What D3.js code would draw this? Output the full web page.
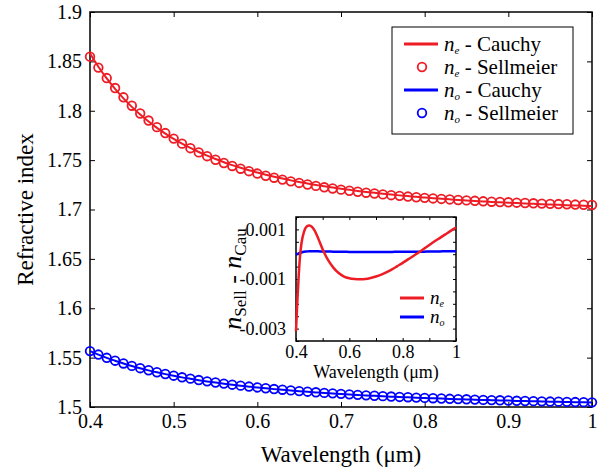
<!DOCTYPE html>
<html>
<head>
<meta charset="utf-8">
<script src="https://cdn.jsdelivr.net/npm/d3@7"></script>
<style>
  body { margin: 0; background: #fff; }
  #drawing_region text { font-family: "Liberation Serif", "Times New Roman", serif !important; }
</style>
</head>
<body>
<svg id="drawing_region" width="603" height="473"></svg>
<script>
// wavelengths (um) of the Sellmeier circles / Cauchy line
const wavelength = [0.40, 0.41, 0.42, 0.43, 0.44, 0.45, 0.46, 0.47, 0.48, 0.49,
  0.50, 0.51, 0.52, 0.53, 0.54, 0.55, 0.56, 0.57, 0.58, 0.59,
  0.60, 0.61, 0.62, 0.63, 0.64, 0.65, 0.66, 0.67, 0.68, 0.69,
  0.70, 0.71, 0.72, 0.73, 0.74, 0.75, 0.76, 0.77, 0.78, 0.79,
  0.80, 0.81, 0.82, 0.83, 0.84, 0.85, 0.86, 0.87, 0.88, 0.89,
  0.90, 0.91, 0.92, 0.93, 0.94, 0.95, 0.96, 0.97, 0.98, 0.99, 1.00];
const neCauchy = [1.8579, 1.8446, 1.8327, 1.8221, 1.8125, 1.8039, 1.7961, 1.7891, 1.7827, 1.7769,
  1.7716, 1.7667, 1.7623, 1.7582, 1.7545, 1.7511, 1.7479, 1.7449, 1.7422, 1.7397,
  1.7374, 1.7352, 1.7332, 1.7313, 1.7295, 1.7279, 1.7263, 1.7249, 1.7235, 1.7222,
  1.7210, 1.7199, 1.7188, 1.7178, 1.7169, 1.7160, 1.7151, 1.7143, 1.7136, 1.7128,
  1.7122, 1.7115, 1.7109, 1.7103, 1.7097, 1.7092, 1.7087, 1.7082, 1.7077, 1.7073,
  1.7069, 1.7065, 1.7061, 1.7057, 1.7053, 1.7050, 1.7047, 1.7044, 1.7041, 1.7038, 1.7035];
const neSellmeier = [1.8548, 1.8437, 1.8331, 1.8230, 1.8136, 1.8051, 1.7972, 1.7901, 1.7834, 1.7774,
  1.7718, 1.7667, 1.7621, 1.7578, 1.7540, 1.7504, 1.7471, 1.7441, 1.7413, 1.7388,
  1.7364, 1.7342, 1.7322, 1.7303, 1.7285, 1.7269, 1.7253, 1.7239, 1.7225, 1.7213,
  1.7201, 1.7190, 1.7180, 1.7170, 1.7162, 1.7153, 1.7145, 1.7138, 1.7131, 1.7124,
  1.7118, 1.7112, 1.7107, 1.7102, 1.7096, 1.7092, 1.7088, 1.7083, 1.7079, 1.7076,
  1.7073, 1.7069, 1.7066, 1.7063, 1.7060, 1.7057, 1.7055, 1.7053, 1.7050, 1.7048, 1.7046];
const noCauchy = [1.5566, 1.5530, 1.5497, 1.5468, 1.5440, 1.5415, 1.5392, 1.5371, 1.5351, 1.5333,
  1.5316, 1.5300, 1.5286, 1.5272, 1.5259, 1.5247, 1.5236, 1.5225, 1.5215, 1.5206,
  1.5197, 1.5189, 1.5181, 1.5174, 1.5167, 1.5160, 1.5154, 1.5148, 1.5142, 1.5137,
  1.5132, 1.5127, 1.5122, 1.5117, 1.5113, 1.5109, 1.5105, 1.5101, 1.5098, 1.5094,
  1.5091, 1.5088, 1.5085, 1.5082, 1.5079, 1.5077, 1.5074, 1.5071, 1.5069, 1.5067,
  1.5065, 1.5062, 1.5060, 1.5058, 1.5056, 1.5054, 1.5053, 1.5051, 1.5049, 1.5048, 1.5046];
const noSellmeier = [1.5566, 1.5531, 1.5498, 1.5469, 1.5441, 1.5416, 1.5393, 1.5372, 1.5352, 1.5334,
  1.5317, 1.5301, 1.5287, 1.5273, 1.5260, 1.5248, 1.5237, 1.5226, 1.5216, 1.5207,
  1.5198, 1.5190, 1.5182, 1.5175, 1.5168, 1.5161, 1.5155, 1.5149, 1.5143, 1.5138,
  1.5133, 1.5128, 1.5123, 1.5118, 1.5114, 1.5110, 1.5106, 1.5102, 1.5099, 1.5095,
  1.5092, 1.5089, 1.5086, 1.5083, 1.5080, 1.5078, 1.5075, 1.5072, 1.5070, 1.5068,
  1.5066, 1.5063, 1.5061, 1.5059, 1.5057, 1.5055, 1.5054, 1.5052, 1.5050, 1.5049, 1.5047];

// inset: n_Sell - n_Cau
const diffWavelength = [0.400, 0.405, 0.410, 0.415, 0.420, 0.43, 0.44, 0.45, 0.46, 0.47,
  0.48, 0.49, 0.50, 0.51, 0.52, 0.54, 0.56, 0.58, 0.60, 0.62,
  0.64, 0.66, 0.68, 0.70, 0.72, 0.74, 0.76, 0.78, 0.80, 0.82,
  0.84, 0.86, 0.88, 0.90, 0.92, 0.94, 0.96, 0.98, 1.00];
const diffNe = [-0.0031, -0.0019, -0.0009, -0.0001, 0.0004, 0.0009, 0.00112, 0.00116, 0.0011, 0.00095,
  0.00072, 0.00046, 0.0002, -0.00003, -0.00023, -0.00054, -0.00076, -0.0009, -0.00097, -0.001,
  -0.00101, -0.001, -0.00096, -0.0009, -0.00082, -0.00072, -0.00061, -0.00048, -0.00035, -0.00021,
  -0.00007, 0.00007, 0.00022, 0.00037, 0.00052, 0.00066, 0.0008, 0.00094, 0.00107];
const diffNo = [-0.00002, 0.00001, 0.00003, 0.00005, 0.00007, 0.0001, 0.00011, 0.00012, 0.00012, 0.00012,
  0.00012, 0.00011, 0.00011, 0.00011, 0.00011, 0.0001, 0.0001, 0.0001, 0.00009, 0.00009,
  0.00009, 0.00009, 0.00009, 0.00009, 0.00009, 0.00009, 0.00009, 0.0001, 0.0001, 0.0001,
  0.0001, 0.0001, 0.0001, 0.00011, 0.00011, 0.00011, 0.00012, 0.00012, 0.00012];

const xTicks = [0.4, 0.5, 0.6, 0.7, 0.8, 0.9, 1];
const yTicks = [1.5, 1.55, 1.6, 1.65, 1.7, 1.75, 1.8, 1.85, 1.9];
const insetXTicks = [0.4, 0.5, 0.6, 0.7, 0.8, 0.9, 1];
const insetXLabels = [0.4, 0.6, 0.8, 1];
const insetYTicks = [-0.0035, -0.003, -0.0025, -0.002, -0.0015, -0.001, -0.0005, 0, 0.0005, 0.001, 0.0015];
const insetYLabels = [0.001, -0.001, -0.003];

const RED = '#ee1c24';
const BLUE = '#0000ff';
const SERIF = 'Liberation Serif';

const svg = d3.select('#drawing_region');

// ---------- main plot ----------
const box = {left: 90, right: 592, top: 12, bottom: 407};
const x = d3.scaleLinear().domain([0.4, 1]).range([box.left, box.right]);
const y = d3.scaleLinear().domain([1.5, 1.9]).range([box.bottom, box.top]);

const fmt = d => String(+d.toFixed(4));

function inwardAxes(g, xs, ys, b, xt, xl, yt, yl, size, fs, padX, padY) {
  g.append('g').attr('transform', `translate(0,${b.bottom})`)
    .call(d3.axisBottom(xs).tickValues(xt).tickSizeInner(-size).tickSizeOuter(0).tickPadding(padX)
      .tickFormat(d => xl.some(v => Math.abs(v - d) < 1e-9) ? fmt(d) : ''))
    .call(a => a.select('.domain').remove());
  g.append('g').attr('transform', `translate(0,${b.top})`)
    .call(d3.axisTop(xs).tickValues(xt).tickSizeInner(-size).tickSizeOuter(0).tickFormat(''))
    .call(a => a.select('.domain').remove());
  g.append('g').attr('transform', `translate(${b.left},0)`)
    .call(d3.axisLeft(ys).tickValues(yt).tickSizeInner(-size).tickSizeOuter(0).tickPadding(padY)
      .tickFormat(d => yl.some(v => Math.abs(v - d) < 1e-9) ? fmt(d) : ''))
    .call(a => a.select('.domain').remove());
  g.append('g').attr('transform', `translate(${b.right},0)`)
    .call(d3.axisRight(ys).tickValues(yt).tickSizeInner(-size).tickSizeOuter(0).tickFormat(''))
    .call(a => a.select('.domain').remove());
  g.selectAll('g').attr('font-family', SERIF);
  g.selectAll('.tick text').attr('fill', '#000').attr('font-size', fs);
  g.selectAll('.tick line').attr('stroke', '#000').attr('stroke-width', 1);
  g.append('rect').attr('x', b.left).attr('y', b.top)
    .attr('width', b.right - b.left).attr('height', b.bottom - b.top)
    .attr('fill', 'none').attr('stroke', '#000').attr('stroke-width', 1.5);
}

const main = svg.append('g');
inwardAxes(main, x, y, box, xTicks, xTicks, yTicks, yTicks, 5, 20, 7, 8);

const line = d3.line().x((d, i) => x(wavelength[i])).y(d => y(d)).curve(d3.curveMonotoneX);
main.append('path').datum(neCauchy).attr('d', line).attr('fill', 'none').attr('stroke', RED).attr('stroke-width', 2);
main.append('path').datum(noCauchy).attr('d', line).attr('fill', 'none').attr('stroke', BLUE).attr('stroke-width', 2);

main.selectAll('circle.ne').data(neSellmeier).enter().append('circle')
  .attr('cx', (d, i) => x(wavelength[i])).attr('cy', d => y(d)).attr('r', 4.3)
  .attr('fill', 'none').attr('stroke', RED).attr('stroke-width', 1.8);
main.selectAll('circle.no').data(noSellmeier).enter().append('circle')
  .attr('cx', (d, i) => x(wavelength[i])).attr('cy', d => y(d)).attr('r', 4.3)
  .attr('fill', 'none').attr('stroke', BLUE).attr('stroke-width', 1.8);

svg.append('text').attr('x', (box.left + box.right) / 2).attr('y', 462)
  .attr('text-anchor', 'middle').attr('font-size', 23).text('Wavelength (μm)');
svg.append('text').attr('transform', `translate(33,${(box.top + box.bottom) / 2}) rotate(-90)`)
  .attr('text-anchor', 'middle').attr('font-size', 23).text('Refractive index');

// ---------- legend ----------
const legendItems = [
  {sub: 'e', name: 'Cauchy', color: RED, type: 'line'},
  {sub: 'e', name: 'Sellmeier', color: RED, type: 'circle'},
  {sub: 'o', name: 'Cauchy', color: BLUE, type: 'line'},
  {sub: 'o', name: 'Sellmeier', color: BLUE, type: 'circle'}
];
const legend = svg.append('g');
legend.append('rect').attr('x', 392).attr('y', 27).attr('width', 181).attr('height', 107)
  .attr('fill', '#fff').attr('stroke', '#000').attr('stroke-width', 1);
legendItems.forEach((d, i) => {
  const cy = 44 + i * 23;
  if (d.type === 'line') {
    legend.append('line').attr('x1', 404).attr('x2', 438).attr('y1', cy).attr('y2', cy)
      .attr('stroke', d.color).attr('stroke-width', 3);
  } else {
    legend.append('circle').attr('cx', 422).attr('cy', cy).attr('r', 4.3)
      .attr('fill', 'none').attr('stroke', d.color).attr('stroke-width', 1.8);
  }
  const t = legend.append('text').attr('x', 444).attr('y', cy + 7).attr('font-size', 21);
  t.append('tspan').attr('font-style', 'italic').text('n');
  t.append('tspan').attr('font-style', 'italic').attr('font-size', 11).attr('dy', 3).text(d.sub);
  t.append('tspan').attr('dy', -3).text(' - ' + d.name);
});

// ---------- inset ----------
const ib = {left: 296, right: 456, top: 217, bottom: 341};
const ix = d3.scaleLinear().domain([0.4, 1]).range([ib.left, ib.right]);
const iy = d3.scaleLinear().domain([-0.0035, 0.0015]).range([ib.bottom, ib.top]);
const inset = svg.append('g');
inset.append('rect').attr('x', ib.left).attr('y', ib.top)
  .attr('width', ib.right - ib.left).attr('height', ib.bottom - ib.top).attr('fill', '#fff');
inwardAxes(inset, ix, iy, ib, insetXTicks, insetXLabels, insetYTicks, insetYLabels, 3, 18, 4, 10);

const iline = d3.line().x((d, i) => ix(diffWavelength[i])).y(d => iy(d)).curve(d3.curveMonotoneX);
inset.append('path').datum(diffNo).attr('d', iline).attr('fill', 'none').attr('stroke', BLUE).attr('stroke-width', 2.5);
inset.append('path').datum(diffNe).attr('d', iline).attr('fill', 'none').attr('stroke', RED).attr('stroke-width', 2.5);

const insetLegend = [{sub: 'e', color: RED}, {sub: 'o', color: BLUE}];
insetLegend.forEach((d, i) => {
  const cy = 298 + i * 19;
  inset.append('line').attr('x1', 400).attr('x2', 424).attr('y1', cy).attr('y2', cy)
    .attr('stroke', d.color).attr('stroke-width', 3);
  const t = inset.append('text').attr('x', 430).attr('y', cy + 6).attr('font-size', 19);
  t.append('tspan').attr('font-style', 'italic').text('n');
  t.append('tspan').attr('font-style', 'italic').attr('font-size', 10).attr('dy', 3).text(d.sub);
});

svg.append('text').attr('x', (ib.left + ib.right) / 2).attr('y', 378)
  .attr('text-anchor', 'middle').attr('font-size', 18).text('Wavelength (μm)');
const yl = svg.append('text').attr('transform', `translate(241,${(ib.top + ib.bottom) / 2}) rotate(-90)`)
  .attr('text-anchor', 'middle').attr('font-size', 26);
yl.append('tspan').attr('font-style', 'italic').text('n');
yl.append('tspan').attr('font-size', 17).attr('dy', 5).text('Sell');
yl.append('tspan').attr('dy', -5).text(' - ');
yl.append('tspan').attr('font-style', 'italic').text('n');
yl.append('tspan').attr('font-size', 17).attr('dy', 5).text('Cau');

svg.selectAll('text').attr('font-family', SERIF).style('font-family', `"${SERIF}"`);
</script>
</body>
</html>
